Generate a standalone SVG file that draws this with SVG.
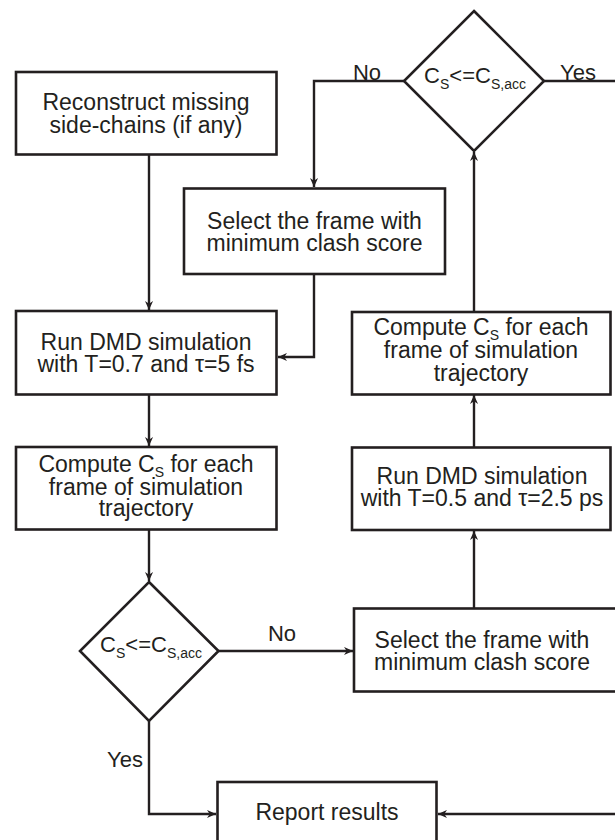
<svg xmlns="http://www.w3.org/2000/svg" width="615" height="840" viewBox="0 0 615 840">
<style>
.box{fill:#fff;stroke:#231f20;stroke-width:2.6}
.con{fill:none;stroke:#231f20;stroke-width:2.4;stroke-linejoin:miter}
.t{font-family:"Liberation Sans",Arial,sans-serif;font-size:23px;fill:#231f20;text-anchor:middle}
.lbl{font-family:"Liberation Sans",Arial,sans-serif;font-size:22px;fill:#231f20;text-anchor:middle}
.sub{font-size:14px}
</style>
<defs>
<marker id="arr" viewBox="0 0 10 10" refX="10" refY="5" markerWidth="9" markerHeight="9" markerUnits="userSpaceOnUse" orient="auto">
<path d="M0,0.5 L10,5 L0,9.5 L3,5 Z" fill="#231f20"/>
</marker>
</defs>
<rect width="615" height="840" fill="#fff"/>

<g id="connectors">
<path class="con" d="M149,155 V310" marker-end="url(#arr)"/>
<path class="con" d="M404,81 H314 V187" marker-end="url(#arr)"/>
<path class="con" d="M544,81 H615"/>
<path class="con" d="M314,274 V357 H278" marker-end="url(#arr)"/>
<path class="con" d="M149,395 V446" marker-end="url(#arr)"/>
<path class="con" d="M149,530 V581" marker-end="url(#arr)"/>
<path class="con" d="M218.5,651 H353" marker-end="url(#arr)"/>
<path class="con" d="M474,608 V531" marker-end="url(#arr)"/>
<path class="con" d="M474,447 V395" marker-end="url(#arr)"/>
<path class="con" d="M474,312 V152" marker-end="url(#arr)"/>
<path class="con" d="M149,721 V814 H216" marker-end="url(#arr)"/>
<path class="con" d="M615,814 H438" marker-end="url(#arr)"/>
<text class="lbl" x="367" y="80">No</text>
<text class="lbl" x="578" y="80">Yes</text>
<text class="lbl" x="282" y="641">No</text>
<text class="lbl" x="125" y="767">Yes</text>
</g>

<g id="reconstruct">
<rect class="box" x="16" y="72" width="260.5" height="82.5"/>
<text class="t" x="146" y="109.5">Reconstruct missing</text>
<text class="t" x="146" y="132.5">side-chains (if any)</text>
</g>

<g id="decision-top">
<polygon class="box" points="474,11 544,81 474,151 404,81"/>
<text class="lbl" x="475" y="83">C<tspan class="sub" dy="6">S</tspan><tspan dy="-6">&lt;=C</tspan><tspan class="sub" dy="6">S,acc</tspan></text>
</g>

<g id="select-top">
<rect class="box" x="184" y="188.5" width="261" height="85.5"/>
<text class="t" x="314.5" y="228.5">Select the frame with</text>
<text class="t" x="314.5" y="251">minimum clash score</text>
</g>

<g id="run-dmd-left">
<rect class="box" x="16" y="311" width="260.5" height="83.5"/>
<text class="t" x="146" y="350">Run DMD simulation</text>
<text class="t" x="146" y="372">with T=0.7 and τ=5 fs</text>
</g>

<g id="compute-left">
<rect class="box" x="16" y="447" width="260.5" height="82.5"/>
<text class="t" x="146" y="471.5">Compute C<tspan class="sub" dy="5.5">S</tspan><tspan dy="-5.5"> for each</tspan></text>
<text class="t" x="146" y="494.5">frame of simulation</text>
<text class="t" x="146" y="516">trajectory</text>
</g>

<g id="decision-bottom">
<polygon class="box" points="149,582 218.5,651 149,721 80,651"/>
<text class="lbl" x="151" y="652">C<tspan class="sub" dy="6">S</tspan><tspan dy="-6">&lt;=C</tspan><tspan class="sub" dy="6">S,acc</tspan></text>
</g>

<g id="compute-right">
<rect class="box" x="352" y="312" width="258.5" height="82.5"/>
<text class="t" x="481" y="334.5">Compute C<tspan class="sub" dy="5.5">S</tspan><tspan dy="-5.5"> for each</tspan></text>
<text class="t" x="481" y="357.5">frame of simulation</text>
<text class="t" x="481" y="380.5">trajectory</text>
</g>

<g id="run-dmd-right">
<rect class="box" x="352" y="447.5" width="258.5" height="82.5"/>
<text class="t" x="482" y="483.5">Run DMD simulation</text>
<text class="t" x="482" y="506">with T=0.5 and τ=2.5 ps</text>
</g>

<g id="select-bottom">
<rect class="box" x="354" y="608.5" width="264" height="83"/>
<text class="t" x="482" y="647.5">Select the frame with</text>
<text class="t" x="482" y="669.5">minimum clash score</text>
</g>

<g id="report">
<rect class="box" x="217.5" y="782" width="219" height="70"/>
<text class="t" x="327" y="819.5">Report results</text>
</g>
</svg>
